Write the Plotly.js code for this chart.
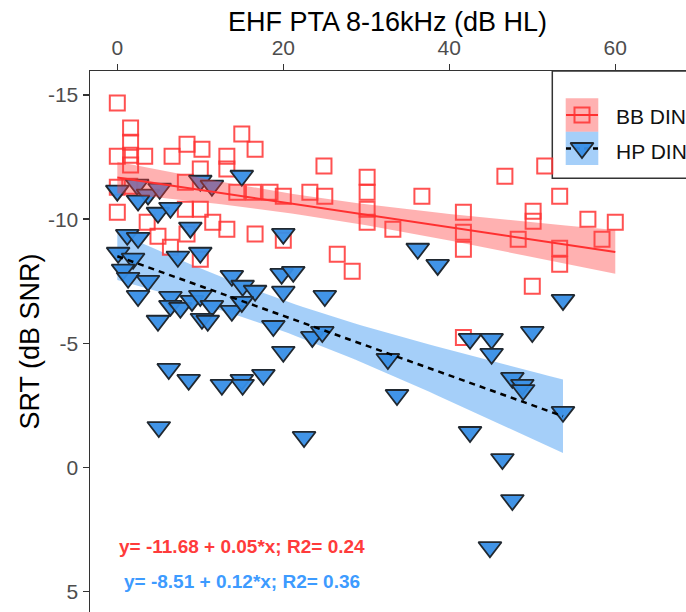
<!DOCTYPE html>
<html>
<head>
<meta charset="utf-8">
<script src="https://cdn.plot.ly/plotly-3.0.1.min.js"></script>
<style>
  html, body { margin: 0; padding: 0; background: #fff; overflow: hidden; }
  #chart { width: 686px; height: 612px; }
</style>
</head>
<body>
<div id="chart"></div>
<script>
// Series labels
const seriesNames = ['BB DIN', 'HP DIN'];

// BB DIN: EHF PTA (dB HL) and SRT (dB SNR)
const bbX = [0.0, 1.6, 1.6, 1.6, 1.6, 0.0, 3.3, 6.6, 8.4, 10.2,
             15.0, 16.6, 13.2, 10.0, 13.2, 24.9, 0.0, 1.5, 8.2, 14.4,
             16.4, 18.4, 20.0, 23.2, 25.0, 0.0, 3.6, 8.2, 10.0, 13.2,
             16.6, 20.0, 6.4, 8.4, 26.5, 11.5, 4.9, 10.0, 28.3, 30.1,
             30.1, 30.1, 30.1, 33.2, 36.7, 41.7, 41.7, 41.7, 41.7, 46.7,
             51.5, 53.3, 50.1, 50.1, 48.3, 53.3, 53.3, 56.7, 58.4, 60.0,
             50.0];
const bbY = [-14.68, -13.67, -13.10, -12.58, -12.18, -12.54, -12.54, -12.54, -13.02, -12.82,
             -13.43, -12.82, -12.54, -12.02, -12.02, -12.14, -11.29, -11.33, -11.49, -11.09,
             -11.09, -11.09, -10.93, -11.09, -10.93, -10.28, -9.88, -10.40, -10.40, -9.60,
             -9.40, -9.15, -8.87, -9.40, -8.59, -9.88, -9.31, -8.39, -7.90, -11.69,
             -11.09, -10.40, -9.88, -9.60, -10.93, -10.28, -9.48, -8.79, -5.24, -11.73,
             -12.14, -10.93, -10.32, -9.92, -9.19, -8.83, -8.19, -10.00, -9.19, -9.88,
             -7.30];

// HP DIN: EHF PTA (dB HL) and SRT (dB SNR)
const hpX = [0.0, 2.4, 3.7, 5.1, 10.0, 11.4, 15.0, 2.5, 4.9, 6.4,
             8.8, 20.0, 1.2, 2.5, 0.1, 1.9, 0.7, 1.3, 3.7, 2.5,
             7.3, 10.0, 13.8, 15.1, 16.6, 19.8, 21.2, 20.0, 25.0, 6.4,
             6.4, 7.6, 9.0, 10.0, 11.4, 10.2, 10.9, 4.9, 13.8, 15.0,
             18.8, 20.0, 23.5, 24.7, 6.2, 8.6, 12.6, 15.0, 15.1, 17.6,
             5.0, 22.5, 32.6, 33.7, 36.2, 38.6, 53.7, 50.0, 42.5, 45.1,
             45.1, 47.6, 48.8, 48.9, 53.7, 42.5, 46.4, 47.6, 44.9];
const hpY = [-11.15, -11.39, -10.99, -11.23, -11.55, -11.35, -11.75, -10.75, -10.26, -10.46,
             -9.66, -9.41, -9.37, -9.25, -8.65, -8.41, -7.97, -7.64, -7.52, -6.91,
             -8.49, -8.65, -7.72, -7.32, -7.12, -7.80, -7.88, -7.08, -6.91, -6.87,
             -6.51, -6.43, -6.71, -6.91, -6.51, -5.99, -5.91, -5.91, -6.31, -6.67,
             -5.70, -4.66, -5.26, -5.46, -3.97, -3.53, -3.33, -3.53, -3.33, -3.73,
             -1.63, -1.23, -4.37, -2.92, -8.81, -8.16, -6.75, -5.46, -5.18, -5.18,
             -4.58, -3.61, -3.33, -3.12, -2.24, -1.43, -0.34, 1.31, 3.21];

// Linear fits printed under the points
const bbFit = { a: -11.68, b: 0.05, r2: 0.24 };
const hpFit = { a: -8.51, b: 0.12, r2: 0.36 };

// Axis ticks
const xTicks = [0, 20, 40, 60];
const yTicks = [-15, -10, -5, 0, 5];
const yTickText = ['-15', '-10', '-5', '0', '5'];

// 95% confidence ribbon around a fitted line, from the residuals of the data
function confidenceRibbon(xs, ys, fit) {
  const n = xs.length;
  const xbar = xs.reduce((s, v) => s + v, 0) / n;
  let sxx = 0, sse = 0;
  xs.forEach((x, i) => {
    sxx += (x - xbar) * (x - xbar);
    const r = ys[i] - (fit.a + fit.b * x);
    sse += r * r;
  });
  const s = Math.sqrt(sse / (n - 2));
  const t = 2.0;
  const lo = Math.min(...xs), hi = Math.max(...xs);
  const steps = 60;
  const gx = [], up = [], dn = [];
  for (let k = 0; k <= steps; k++) {
    const x = lo + (hi - lo) * k / steps;
    const yhat = fit.a + fit.b * x;
    const half = t * s * Math.sqrt(1 / n + (x - xbar) * (x - xbar) / sxx);
    gx.push(x); up.push(yhat - half); dn.push(yhat + half);
  }
  return { x: gx.concat(gx.slice().reverse()), y: up.concat(dn.reverse()) };
}

function fitLine(xs, fit) {
  const lo = Math.min(...xs), hi = Math.max(...xs);
  return { x: [lo, hi], y: [fit.a + fit.b * lo, fit.a + fit.b * hi] };
}

function eqText(fit) {
  return 'y= ' + fit.a.toFixed(2) + ' + ' + fit.b.toFixed(2) + '*x; R2= ' + fit.r2.toFixed(2);
}

const RED = 'rgba(255,50,50,0.85)';
const RED_BAND = 'rgba(255,60,60,0.4)';
const BLUE_FILL = 'rgba(55,142,230,0.95)';
const BLUE_BAND = 'rgba(40,140,240,0.42)';
const OUTLINE = '#202830';

const bbRib = confidenceRibbon(bbX, bbY, bbFit);
const hpRib = confidenceRibbon(hpX, hpY, hpFit);
const bbLine = fitLine(bbX, bbFit);
const hpLine = fitLine(hpX, hpFit);

const triMarker = { symbol: 'triangle-down', size: 20, color: BLUE_FILL, line: { width: 1.8, color: OUTLINE } };
const sqMarker = { symbol: 'square-open', size: 15, color: RED, line: { width: 2, color: RED } };

const traces = [
  { type: 'scatter', mode: 'lines', x: hpRib.x, y: hpRib.y, fill: 'toself',
    fillcolor: BLUE_BAND, line: { width: 0 }, hoverinfo: 'skip', name: seriesNames[1] },
  { type: 'scatter', mode: 'markers', x: bbX, y: bbY, name: seriesNames[0], marker: sqMarker },
  { type: 'scatter', mode: 'markers', x: hpX, y: hpY, name: seriesNames[1], marker: triMarker },
  { type: 'scatter', mode: 'lines', x: bbRib.x, y: bbRib.y, fill: 'toself',
    fillcolor: RED_BAND, line: { width: 0 }, hoverinfo: 'skip', name: seriesNames[0] },
  { type: 'scatter', mode: 'lines', x: bbLine.x, y: bbLine.y, name: seriesNames[0],
    line: { color: '#ff3030', width: 2 } },
  { type: 'scatter', mode: 'lines', x: hpLine.x, y: hpLine.y, name: seriesNames[1],
    line: { color: '#000', width: 2.5, dash: '6px,5px' } },
  // legend keys, placed on the pixel overlay axes
  { type: 'scatter', mode: 'lines', x: [566, 598], y: [115, 115], xaxis: 'x2', yaxis: 'y2',
    line: { color: '#ff3030', width: 2 }, hoverinfo: 'skip' },
  { type: 'scatter', mode: 'lines', x: [566, 598], y: [148.5, 148.5], xaxis: 'x2', yaxis: 'y2',
    line: { color: '#000', width: 2.5, dash: '5px,4px' }, hoverinfo: 'skip' },
  { type: 'scatter', mode: 'markers', x: [582], y: [115], xaxis: 'x2', yaxis: 'y2',
    marker: sqMarker, hoverinfo: 'skip' },
  { type: 'scatter', mode: 'markers', x: [582], y: [148], xaxis: 'x2', yaxis: 'y2',
    marker: triMarker, hoverinfo: 'skip' }
];

const FONT = 'Liberation Sans, Arial, sans-serif';

const layout = {
  width: 686, height: 612,
  margin: { l: 90, r: 0, t: 71, b: 0, pad: 0 },
  paper_bgcolor: '#fff', plot_bgcolor: '#fff',
  showlegend: false,
  font: { family: FONT, color: '#000' },
  // x-axis title sits above the top axis
  title: {
    text: 'EHF PTA 8-16kHz (dB HL)', font: { size: 27, color: '#000' },
    xref: 'container', yref: 'container', x: 387.5 / 686, xanchor: 'center',
    y: 1 - 22 / 612, yanchor: 'middle'
  },
  xaxis: {
    side: 'top', range: [-3.29, 68.52], tickvals: xTicks,
    ticks: 'outside', ticklen: 6, tickwidth: 1.5, tickcolor: '#333',
    showline: true, linecolor: '#333', linewidth: 1.5,
    showgrid: false, zeroline: false,
    tickfont: { size: 21, color: '#4d4d4d' }
  },
  yaxis: {
    range: [5.82, -15.97], tickvals: yTicks, ticktext: yTickText,
    ticks: 'outside', ticklen: 6, tickwidth: 1.5, tickcolor: '#333',
    showline: true, linecolor: '#333', linewidth: 1.5,
    showgrid: false, zeroline: false,
    tickfont: { size: 21, color: '#4d4d4d' },
    title: { text: 'SRT (dB SNR)', font: { size: 27, color: '#000' }, standoff: 0 }
  },
  xaxis2: { overlaying: 'x', range: [90, 686], visible: false },
  yaxis2: { overlaying: 'y', range: [612, 71], visible: false },
  shapes: [
    { type: 'rect', xref: 'x2', yref: 'y2', x0: 552.3, x1: 720, y0: 71, y1: 178.3,
      line: { color: '#333', width: 1.5 }, fillcolor: '#fff', layer: 'below' },
    { type: 'rect', xref: 'x2', yref: 'y2', x0: 565.7, x1: 598.3, y0: 98.3, y1: 131.7,
      line: { width: 0 }, fillcolor: RED_BAND, layer: 'below' },
    { type: 'rect', xref: 'x2', yref: 'y2', x0: 565.7, x1: 598.3, y0: 131.7, y1: 165,
      line: { width: 0 }, fillcolor: BLUE_BAND, layer: 'below' }
  ],
  annotations: [
    { xref: 'x2', yref: 'y2', x: 614, y: 116, xanchor: 'left', yanchor: 'middle', showarrow: false,
      text: seriesNames[0], font: { size: 21, color: '#111' } },
    { xref: 'x2', yref: 'y2', x: 614, y: 151, xanchor: 'left', yanchor: 'middle', showarrow: false,
      text: seriesNames[1], font: { size: 21, color: '#111' } },
    { xref: 'x2', yref: 'y2', x: 241.5, y: 546.5, xanchor: 'center', yanchor: 'middle', showarrow: false,
      text: '<b>' + eqText(bbFit) + '</b>', font: { size: 19, color: '#ff3b3b' } },
    { xref: 'x2', yref: 'y2', x: 241.5, y: 581.5, xanchor: 'center', yanchor: 'middle', showarrow: false,
      text: '<b>' + eqText(hpFit) + '</b>', font: { size: 19, color: '#3d9bff' } }
  ]
};

Plotly.newPlot('chart', traces, layout, { staticPlot: true, displayModeBar: false });
</script>
</body>
</html>
